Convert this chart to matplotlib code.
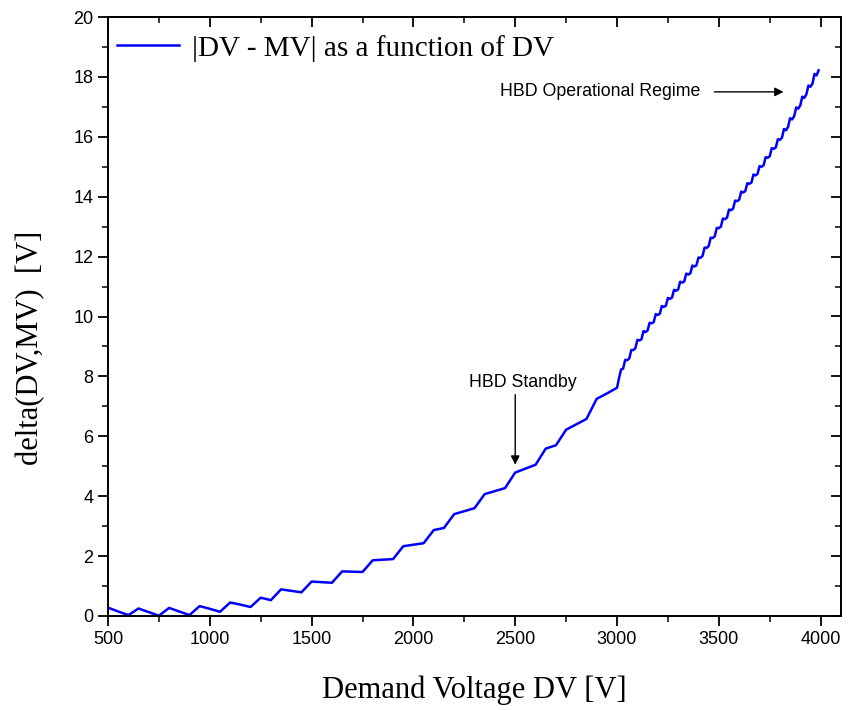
import matplotlib
matplotlib.use("Agg")
import matplotlib.pyplot as plt
from matplotlib.ticker import MultipleLocator

# demand voltage steps below 3 kV (50 V spacing)
dv_low = [500, 550, 600, 650, 700, 750, 800, 850, 900, 950,
          1000, 1050, 1100, 1150, 1200, 1250, 1300, 1350, 1400, 1450,
          1500, 1550, 1600, 1650, 1700, 1750, 1800, 1850, 1900, 1950,
          2000, 2050, 2100, 2150, 2200, 2250, 2300, 2350, 2400, 2450,
          2500, 2550, 2600, 2650, 2700, 2750, 2800, 2850, 2900, 2950,
          3000]
delta_low = [0.28, 0.15, 0.03, 0.25, 0.13, 0.01, 0.27, 0.15, 0.03, 0.33,
             0.24, 0.14, 0.45, 0.38, 0.30, 0.61, 0.53, 0.89, 0.84, 0.79,
             1.15, 1.13, 1.11, 1.49, 1.48, 1.47, 1.86, 1.88, 1.90, 2.33,
             2.38, 2.43, 2.87, 2.94, 3.40, 3.50, 3.60, 4.07, 4.17, 4.27,
             4.79, 4.92, 5.05, 5.59, 5.70, 6.22, 6.40, 6.58, 7.25, 7.43,
             7.62]

# fine scan above 3 kV (10 V spacing)
dv_high = list(range(3010, 4000, 10))
delta_high = [7.95, 8.23, 8.26, 8.55, 8.54, 8.60, 8.88, 8.88, 8.94, 9.22,
              9.20, 9.24, 9.51, 9.48, 9.53, 9.79, 9.77, 9.81, 10.08, 10.05,
              10.09, 10.35, 10.32, 10.36, 10.62, 10.59, 10.63, 10.89, 10.86, 10.90,
              11.16, 11.13, 11.17, 11.43, 11.40, 11.44, 11.70, 11.67, 11.71, 11.97,
              11.96, 12.02, 12.30, 12.29, 12.35, 12.63, 12.62, 12.68, 12.96, 12.95,
              13.00, 13.27, 13.25, 13.30, 13.57, 13.55, 13.60, 13.87, 13.85, 13.90,
              14.17, 14.14, 14.19, 14.45, 14.43, 14.47, 14.74, 14.71, 14.76, 15.02,
              15.00, 15.05, 15.32, 15.30, 15.35, 15.62, 15.60, 15.65, 15.92, 15.90,
              15.97, 16.26, 16.22, 16.33, 16.62, 16.58, 16.69, 16.98, 16.94, 17.05,
              17.34, 17.30, 17.42, 17.71, 17.67, 17.78, 18.10, 18.05, 18.22]

dv = dv_low + dv_high
delta = delta_low + delta_high

serif = "Liberation Serif"
sans = "Liberation Sans"

fig = plt.figure(figsize=(8.49, 7.10), dpi=100)
ax = fig.add_axes([108 / 849, 94 / 710, 733 / 849, 599 / 710])

ax.plot(dv, delta, color="#0000ff", lw=1.8, label="|DV - MV| as a function of DV")

ax.set_xlim(500, 4100)
ax.set_ylim(0, 20)
ax.xaxis.set_major_locator(MultipleLocator(500))
ax.xaxis.set_minor_locator(MultipleLocator(250))
ax.yaxis.set_major_locator(MultipleLocator(2))
ax.yaxis.set_minor_locator(MultipleLocator(1))
ax.tick_params(which="major", direction="out", length=7, width=1.3, labelsize=13)
ax.tick_params(which="minor", direction="out", length=4, width=1.1)
for lab in ax.get_xticklabels() + ax.get_yticklabels():
    lab.set_fontfamily(sans)
for sp in ax.spines.values():
    sp.set_linewidth(1.4)

# mirrored ticks on top and right, pointing inwards
top = ax.secondary_xaxis("top")
right = ax.secondary_yaxis("right")
for sec, axis, loc, mloc in ((top, top.xaxis, 500, 250), (right, right.yaxis, 2, 1)):
    axis.set_major_locator(MultipleLocator(loc))
    axis.set_minor_locator(MultipleLocator(mloc))
    sec.tick_params(which="major", direction="in", length=7, width=1.3,
                    labeltop=False, labelright=False)
    sec.tick_params(which="minor", direction="in", length=4, width=1.1)
    for sp in sec.spines.values():
        sp.set_linewidth(1.4)

ax.set_xlabel("Demand Voltage DV [V]", fontfamily=serif, fontsize=22)
ax.xaxis.set_label_coords(0.5, -0.1)
ax.set_ylabel("delta(DV,MV)  [V]", fontfamily=serif, fontsize=22)
ax.yaxis.set_label_coords(-0.086, 0.448)

ax.legend(loc="upper left", bbox_to_anchor=(0.0, 0.985), frameon=False,
          handlelength=2.15, handletextpad=0.42, borderaxespad=0.0, borderpad=0.3,
          prop={"family": serif, "size": 21})

# standby marker
ax.annotate("", xy=(2500, 5.05), xytext=(2500, 7.39),
            arrowprops=dict(arrowstyle="-|>", color="black", lw=1,
                            shrinkA=0, shrinkB=0, mutation_scale=13))
ax.text(2535, 7.8, "HBD Standby", ha="center", va="center",
        fontfamily=sans, fontsize=12.8)

# operational regime marker
ax.annotate("", xy=(3818, 17.5), xytext=(3478, 17.5),
            arrowprops=dict(arrowstyle="-|>", color="black", lw=1,
                            shrinkA=0, shrinkB=0, mutation_scale=13))
ax.text(2427, 17.5, "HBD Operational Regime", ha="left", va="center",
        fontfamily=sans, fontsize=12.8)

fig.savefig("out.png", dpi=100)
